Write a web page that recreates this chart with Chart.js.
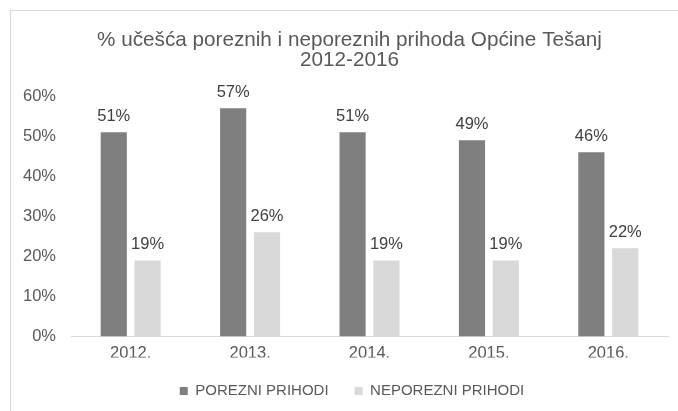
<!DOCTYPE html>
<html>
<head>
<meta charset="utf-8">
<script src="https://cdn.jsdelivr.net/npm/chart.js@4"></script>
<style>
  html, body { margin: 0; padding: 0; background: #fff; }
  canvas { display: block; }
</style>
</head>
<body>
<canvas id="myChart" width="678" height="411"></canvas>
<script>
const years = ['2012.', '2013.', '2014.', '2015.', '2016.'];
const porezni = [51, 57, 51, 49, 46];
const neporezni = [19, 26, 19, 19, 22];
const seriesNames = ['POREZNI PRIHODI', 'NEPOREZNI PRIHODI'];
const titleLines = ['% učešća poreznih i neporeznih prihoda Općine Tešanj', '2012-2016'];

const FONT = "'Liberation Sans', Arial, sans-serif";

// light frame round the chart
const framePlugin = {
    id: 'frame',
    beforeDraw(chart) {
        const ctx = chart.ctx;
        ctx.save();
        ctx.fillStyle = '#fff';
        ctx.fillRect(0, 0, chart.width, chart.height);
        ctx.strokeStyle = '#d9d9d9';
        ctx.lineWidth = 1;
        ctx.strokeRect(10.5, 10.5, 700, 500);
        ctx.restore();
    }
};

// the original chart was wider than the crop, so title and legend sit a bit right of centre
const shiftPlugin = {
    id: 'shift',
    afterLayout(chart) {
        if (chart.titleBlock) { chart.titleBlock.left += 10.5; chart.titleBlock.right += 10.5; }
        if (chart.legend) { chart.legend.left += 13; chart.legend.right += 13; }
    }
};

// value labels above bars
const valueLabels = {
    id: 'valueLabels',
    afterDatasetsDraw(chart) {
        const ctx = chart.ctx;
        ctx.save();
        ctx.font = '16.5px ' + FONT;
        ctx.fillStyle = '#404040';
        ctx.textAlign = 'center';
        ctx.textBaseline = 'alphabetic';
        chart.data.datasets.forEach((ds, i) => {
            chart.getDatasetMeta(i).data.forEach((bar, j) => {
                ctx.fillText(ds.data[j] + '%', bar.x, bar.y - 11);
            });
        });
        ctx.restore();
    }
};

const data = {
    labels: years,
    datasets: [{
        label: seriesNames[0],
        data: porezni,
        backgroundColor: '#7f7f7f',
        categoryPercentage: 0.567,
        barPercentage: 0.773
    }, {
        label: seriesNames[1],
        data: neporezni,
        backgroundColor: '#d9d9d9',
        categoryPercentage: 0.567,
        barPercentage: 0.773
    }]
};

const config = {
    type: 'bar',
    data: data,
    plugins: [framePlugin, shiftPlugin, valueLabels],
    options: {
        responsive: false,
        animation: false,
        layout: { padding: { top: 30, left: 10, right: 10, bottom: 2.5 } },
        plugins: {
            title: {
                display: true,
                text: titleLines,
                color: '#595959',
                font: { family: FONT, size: 20.7, weight: 'normal', lineHeight: 0.97 },
                padding: { top: 0, bottom: 26 }
            },
            legend: {
                position: 'bottom',
                labels: {
                    boxWidth: 8,
                    boxHeight: 8,
                    padding: 26,
                    color: '#595959',
                    font: { family: FONT, size: 15 }
                }
            },
            tooltip: { enabled: false }
        },
        scales: {
            x: {
                grid: { display: false, drawTicks: false },
                border: { display: true, color: '#d9d9d9', width: 1 },
                afterFit: s => { s.height = 21; },
                ticks: { color: '#595959', font: { family: FONT, size: 16.5 }, padding: 7.5 }
            },
            y: {
                min: 0,
                max: 60,
                grid: { display: false, drawTicks: false },
                border: { display: false },
                afterFit: s => { s.width = 61; },
                ticks: {
                    stepSize: 10,
                    padding: 15,
                    color: '#595959',
                    font: { family: FONT, size: 16.5 },
                    callback: v => v + '%'
                }
            }
        }
    }
};

const myChart = new Chart(document.getElementById('myChart'), config);
</script>
</body>
</html>
